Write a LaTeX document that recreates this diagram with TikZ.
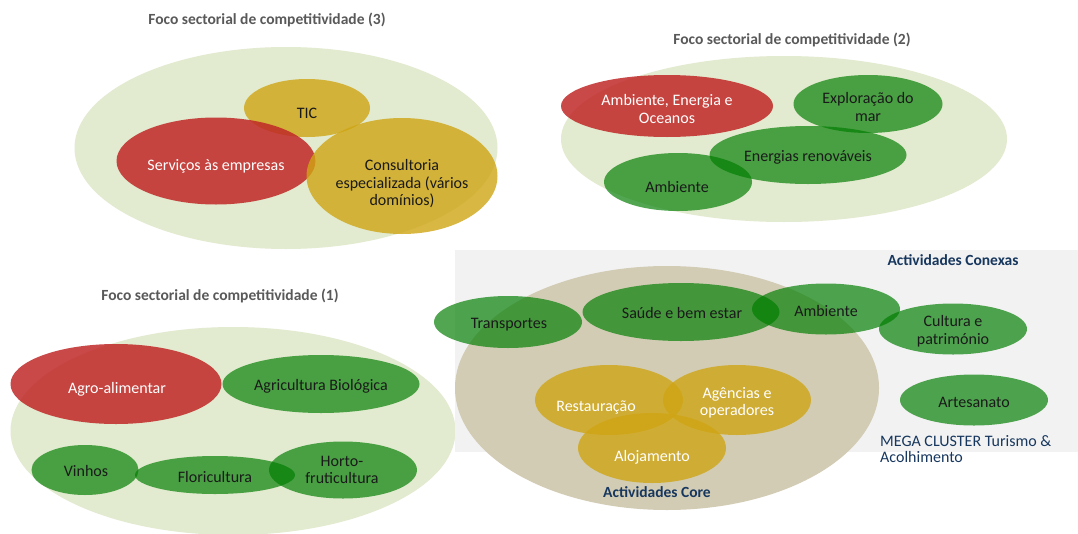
\documentclass[tikz,border=0pt]{standalone}
\usepackage{fontspec}
\setmainfont{Carlito}
\usetikzlibrary{shapes.geometric}
\definecolor{bgpale}{RGB}{226,234,207}
\definecolor{tgreen}{RGB}{0,125,0}
\definecolor{tred}{RGB}{192,40,40}
\definecolor{tgold}{RGB}{207,165,20}
\definecolor{coretan}{RGB}{210,204,181}
\definecolor{panelgray}{RGB}{242,242,242}
\definecolor{navy}{RGB}{23,55,94}
\definecolor{titlegray}{RGB}{89,89,89}
\definecolor{darktext}{RGB}{26,26,26}
\begin{document}
\begin{tikzpicture}[x=1pt,y=-1pt,
  ell/.style={ellipse, inner sep=0pt, draw=none},
  pale/.style={ell, fill=bgpale},
  grn/.style={ell, fill=tgreen, fill opacity=0.68},
  rd/.style={ell, fill=tred, fill opacity=0.85},
  gld/.style={ell, fill=tgold, fill opacity=0.8},
  core/.style={ell, fill=coretan},
  lbl/.style={font=\fontsize{16}{17.5}\selectfont, align=center, inner sep=0pt, text=darktext},
  wlbl/.style={lbl, text=white},
  ttl/.style={font=\fontsize{15.5}{17}\selectfont\bfseries, text=titlegray, inner sep=0pt},
  blu/.style={font=\fontsize{15.5}{17}\selectfont\bfseries, text=navy, inner sep=0pt},
  blureg/.style={font=\fontsize{16}{16.5}\selectfont, text=navy, inner sep=0pt, align=left},
]
\fill[white] (0,0) rectangle (1078,533);
\useasboundingbox (0,0) rectangle (1078,533);

% ---------- Group 3 (top left) ----------
\node[ttl] (t3) at (267,20) {Foco sectorial de competitividade (3)};
\node[pale, minimum width=423, minimum height=202] (g3) at (286,148) {};
\node[gld, minimum width=126, minimum height=58] (tic) at (307,108) {};
\node[rd, minimum width=199, minimum height=87] (serv) at (216,161) {};
\node[gld, minimum width=191, minimum height=116] (cons) at (402,176) {};
\node[lbl] at (307,113) {TIC};
\node[wlbl] at (216,166) {Serviços às empresas};
\node[lbl] at (402,184) {Consultoria\\especializada (vários\\domínios)};

% ---------- Group 2 (top right) ----------
\node[ttl] (t2) at (792,40) {Foco sectorial de competitividade (2)};
\node[pale, minimum width=446, minimum height=166] (g2) at (784,139) {};
\node[rd, minimum width=212, minimum height=62] (aeo) at (667,106) {};
\node[grn, minimum width=149, minimum height=58] (expl) at (868,104) {};
\node[grn, minimum width=148, minimum height=58] (amb2) at (678,182) {};
\node[grn, minimum width=197, minimum height=58] (ener) at (808,155) {};
\node[wlbl] at (667,109) {Ambiente, Energia e\\Oceanos};
\node[lbl] at (868,107) {Exploração do\\mar};
\node[lbl] at (808,157) {Energias renováveis};
\node[lbl] at (677,187) {Ambiente};

% ---------- Group 1 (bottom left) ----------
\node[ttl] (t1) at (220,296) {Foco sectorial de competitividade (1)};
\node[pale, minimum width=445, minimum height=208] (g1) at (233,431) {};
\node[rd, minimum width=211, minimum height=80] (agro) at (116,384) {};
\node[grn, minimum width=197, minimum height=58] (agri) at (321,384) {};
\node[grn, minimum width=107, minimum height=50] (vinh) at (85,470) {};
\node[grn, minimum width=160, minimum height=38] (flor) at (215,475) {};
\node[grn, minimum width=148, minimum height=57] (hort) at (343,470) {};
\node[wlbl] at (117,389) {Agro-alimentar};
\node[lbl] at (321,386) {Agricultura Biológica};
\node[lbl] at (86,471) {Vinhos};
\node[lbl] at (215,477) {Floricultura};
\node[lbl] at (342,470) {Horto-\\fruticultura};

% ---------- Mega cluster (bottom right) ----------
\node[fill=panelgray, inner sep=0pt, minimum width=623, minimum height=202, anchor=north west] (panel) at (455,250) {};
\node[core, minimum width=424, minimum height=244] (coreell) at (667,388) {};
\node[gld, minimum width=148, minimum height=70] (rest) at (609,400) {};
\node[gld, minimum width=148, minimum height=70] (agen) at (737,400) {};
\node[gld, minimum width=148, minimum height=70] (aloj) at (652,448) {};
\node[grn, minimum width=148, minimum height=52] (trans) at (508,322) {};
\node[grn, minimum width=197, minimum height=58] (saude) at (681,312) {};
\node[grn, minimum width=148, minimum height=51] (amb) at (826,309) {};
\node[grn, minimum width=148, minimum height=51] (cult) at (953,329) {};
\node[grn, minimum width=148, minimum height=51] (arte) at (974,400) {};
\node[wlbl] at (596,407) {Restauração};
\node[wlbl] at (737,403) {Agências e\\operadores};
\node[wlbl] at (652,457) {Alojamento};
\node[lbl] at (509,325) {Transportes};
\node[lbl] at (682,313) {Saúde e bem estar};
\node[lbl] at (826,311) {Ambiente};
\node[lbl] at (953,331) {Cultura e\\património};
\node[lbl] at (974,402) {Artesanato};
\node[blu] (core) at (657,492) {Actividades Core};
\node[blu] (conex) at (953,260) {Actividades Conexas};
\node[blureg, anchor=west] (mega) at (880,449) {MEGA CLUSTER Turismo \&\\Acolhimento};
\end{tikzpicture}
\end{document}
